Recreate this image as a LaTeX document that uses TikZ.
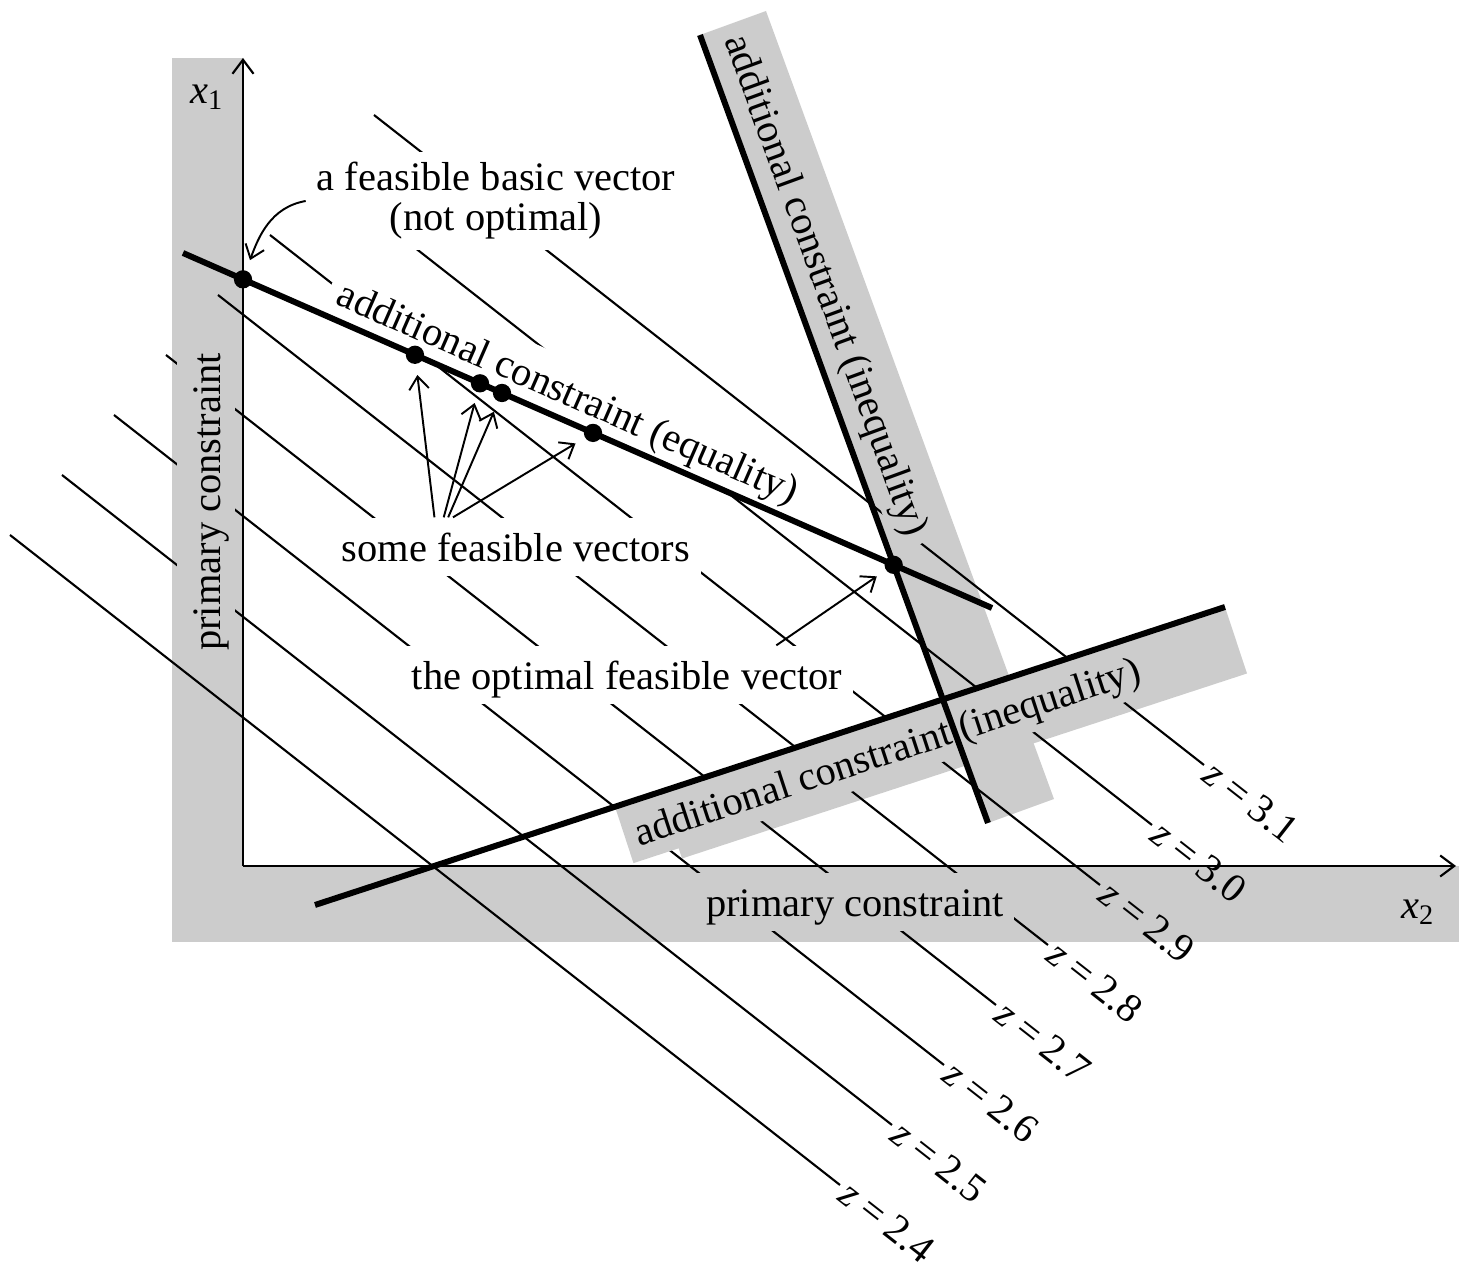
\documentclass[tikz,border=0pt]{standalone}
\usepackage{fontspec}
\setmainfont{Liberation Serif}
\usetikzlibrary{arrows.meta,calc}
\definecolor{bandgray}{gray}{0.8}
\begin{document}
\begin{tikzpicture}[x=0.01cm,y=-0.01cm,
  lbl/.style={font=\fontsize{11.5}{11.4}\selectfont, inner xsep=3pt, inner ysep=1.5pt, text height=11pt, text depth=2.5pt},
  wlbl/.style={lbl, fill=white},
  glbl/.style={lbl, fill=bandgray},
  iso/.style={line width=0.6pt},
  heavy/.style={line width=1.7pt},
  axisline/.style={line width=0.6pt, -{Straight Barb[length=4pt,width=6pt]}},
  fdot/.style={circle, fill=black, inner sep=0pt, minimum size=5.2pt},
  arr/.style={line width=0.55pt, -{Straight Barb[length=3.6pt,width=5.6pt]}},
  zlbl/.style={font=\fontsize{11.5}{11.4}\selectfont, inner sep=1.5pt, sloped, anchor=west, pos=1},
  axlbl/.style={font=\fontsize{11.5}{11.4}\selectfont, inner sep=0pt}
]
\useasboundingbox (0,0) rectangle (1459,1264);

% key coordinates
\coordinate (O) at (243,866);
\coordinate (x1tip) at (243,58);
\coordinate (x2tip) at (1456,866);
\coordinate (eqA) at (183,253);
\coordinate (eqB) at (992,608);
\coordinate (stA) at (700,35);
\coordinate (stB) at (988,823);
\coordinate (shA) at (315,905);
\coordinate (shB) at (1225,607);

% gray bands
\fill[bandgray] (172,58) rectangle (243,942);
\fill[bandgray] (172,866) rectangle (1459,942);
\fill[bandgray] (stA) -- (766,11) -- (1054,799) -- (stB) -- cycle;
\fill[bandgray] (660,792) -- (shB) -- (1247,673.5) -- (682,858.5) -- cycle;

% iso-lines of the objective
\foreach \k/\z in {0/2.4,1/2.5,2/2.6,3/2.7,4/2.8,5/2.9,6/3.0,7/3.1} {
  \coordinate (s\k) at ({10+52*\k},{535-60*\k});
  \coordinate (e\k) at ({840+52*\k},{1185-60*\k});
  \draw[iso] (s\k) -- (e\k) node[zlbl] (zl\k) {\textit{z}\hspace{0.22em}=\hspace{0.22em}\z};
}

% labels (knock out the iso-lines)
\node[font=\fontsize{11.5}{11.4}\selectfont, inner xsep=3pt, inner ysep=3pt, fill=white, align=center] (fbv) at (496,201) {a feasible basic vector\\(not optimal)};
\node[wlbl, rotate=-23.69, anchor=base] (eqlbl) at (563,404) {additional constraint (equality)};
\node[wlbl, anchor=base] (sfv) at (516,562) {some feasible vectors};
\node[wlbl, anchor=base] (ofv) at (627,690) {the optimal feasible vector};
\node[glbl, rotate=90, anchor=base] (pcv) at (221,502) {primary constraint};
\node[glbl, anchor=base] (pch) at (855,917) {primary constraint};
\node[glbl, rotate=-69.92, anchor=base] (stlbl) at (815,289) {additional constraint (inequality)};
\node[glbl, rotate=18.13, anchor=base] (shlbl) at (891,764) {additional constraint (inequality)};

% axes
\draw[axisline] (O) -- (x1tip);
\draw[axisline] (O) -- (x2tip);
\node[axlbl] (x1lbl) at (207,97) {\textit{x}\textsubscript{1}};
\node[axlbl] (x2lbl) at (1418,912) {\textit{x}\textsubscript{2}};

% constraint lines
\draw[heavy] (eqA) -- (eqB);
\draw[heavy] (stA) -- (stB);
\draw[heavy] (shA) -- (shB);

% feasible points
\coordinate (bas) at (intersection of eqA--eqB and O--x1tip);
\coordinate (opt) at (intersection of eqA--eqB and stA--stB);
\node[fdot] (nbas) at (bas) {};
\node[fdot] (nopt) at (opt) {};
\path (eqA) -- (eqB)
  node[fdot,pos=0.2867] (f1) {}
  node[fdot,pos=0.3671] (f2) {}
  node[fdot,pos=0.3943] (f3) {}
  node[fdot,pos=0.5068] (f4) {};

% pointer arrows
\draw[arr, shorten >=3pt] (fbv.west) to[out=190,in=70] (nbas);
\draw[arr, shorten >=3pt] ($(sfv.north west)!0.28!(sfv.north east)$) -- (f1);
\draw[arr, shorten >=3pt] ($(sfv.north west)!0.305!(sfv.north east)$) -- (f2);
\draw[arr, shorten >=3pt] ($(sfv.north west)!0.317!(sfv.north east)$) -- (f3);
\draw[arr, shorten >=3pt] ($(sfv.north west)!0.33!(sfv.north east)$) -- (f4);
\draw[arr, shorten >=3pt] ($(ofv.north west)!0.83!(ofv.north east)$) -- (nopt);
\end{tikzpicture}
\end{document}
